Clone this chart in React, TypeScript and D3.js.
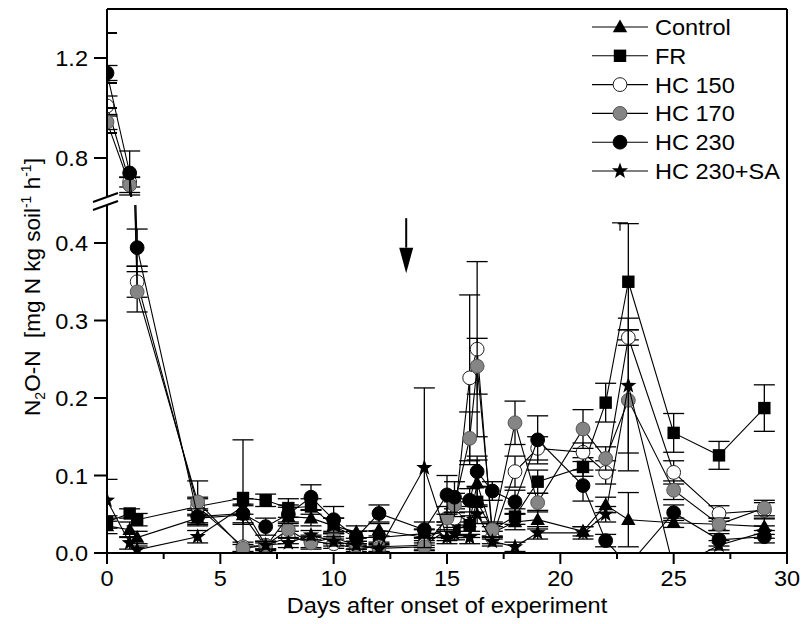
import React from "react";
import * as d3 from "d3";

const days = [0, 1, 1.33, 4, 6, 7, 8, 9, 10, 11, 12, 14, 15, 15.33, 16, 16.33, 17, 18, 19, 21, 22, 23, 25, 27, 29];

const seriesNames = ["Control", "FR", "HC 150", "HC 170", "HC 230", "HC 230+SA"];

const controlValues = [0.035, 0.03, 0.02, 0.045, 0.049, 0.008, 0.047, 0.045, 0.035, 0.027, 0.03, 0.02, 0.03, 0.051, 0.04, 0.09, 0.026, 0.04, 0.043, 0.028, 0.062, 0.043, 0.039, 0.037, 0.034];
const controlErrors = [0.01, 0.01, 0.008, 0.01, 0.012, 0.005, 0.012, 0.01, 0.01, 0.008, 0.008, 0.01, 0.01, 0.015, 0.02, 0.03, 0.008, 0.01, 0.012, 0.006, 0.01, 0.035, 0.006, 0.008, 0.01];

const frValues = [0.04, 0.051, 0.043, 0.06, 0.071, 0.068, 0.058, 0.06, 0.035, 0.02, 0.02, 0.025, 0.026, 0.03, 0.036, 0.066, 0.03, 0.047, 0.092, 0.111, 0.194, 0.35, 0.155, 0.126, 0.187];
const frErrors = [0.008, 0.006, 0.008, 0.012, 0.075, 0.008, 0.012, 0.01, 0.01, 0.008, 0.008, 0.006, 0.01, 0.01, 0.012, 0.02, 0.008, 0.01, 0.015, 0.012, 0.025, 0.075, 0.025, 0.018, 0.03];

const hc150Values = [1.008, 0.704, 0.35, 0.06, 0.008, 0.01, 0.02, 0.015, 0.012, 0.006, 0.008, 0.01, 0.03, 0.045, 0.226, 0.263, 0.02, 0.105, 0.135, 0.13, 0.104, 0.278, 0.104, 0.051, 0.055];
const hc150Errors = [0.04, 0.02, 0.02, 0.01, 0.006, 0.005, 0.008, 0.008, 0.006, 0.004, 0.006, 0.006, 0.01, 0.012, 0.107, 0.113, 0.008, 0.02, 0.015, 0.012, 0.015, 0.01, 0.015, 0.01, 0.01];

const hc170Values = [0.944, 0.692, 0.337, 0.066, 0.006, 0.01, 0.03, 0.013, 0.02, 0.01, 0.006, 0.008, 0.045, 0.062, 0.148, 0.241, 0.03, 0.168, 0.065, 0.16, 0.122, 0.197, 0.081, 0.037, 0.058];
const hc170Errors = [0.03, 0.03, 0.026, 0.027, 0.005, 0.005, 0.01, 0.008, 0.008, 0.005, 0.005, 0.005, 0.015, 0.015, 0.034, 0.036, 0.01, 0.028, 0.012, 0.025, 0.015, 0.091, 0.012, 0.008, 0.01];

const hc230Values = [1.14, 0.74, 0.394, 0.047, 0.051, 0.034, 0.05, 0.072, 0.043, 0.02, 0.051, 0.03, 0.075, 0.072, 0.068, 0.105, 0.08, 0.066, 0.146, 0.087, 0.016, -0.016, 0.052, 0.017, 0.021];
const hc230Errors = [0.03, 0.088, 0.024, 0.01, 0.012, 0.011, 0.012, 0.016, 0.017, 0.008, 0.011, 0.01, 0.025, 0.02, 0.015, 0.02, 0.012, 0.015, 0.031, 0.02, 0.008, 0.06, 0.01, 0.008, 0.008];

const saValues = [0.068, 0.013, 0.004, 0.021, 0.06, 0.01, 0.013, 0.023, 0.015, 0.01, 0.005, 0.11, 0.02, 0.025, 0.02, 0.05, 0.015, 0.008, 0.026, 0.026, 0.05, 0.216, -0.02, 0.01, 0.027];
const saErrors = [0.027, 0.008, 0.005, 0.008, 0.01, 0.005, 0.006, 0.006, 0.006, 0.005, 0.004, 0.103, 0.008, 0.008, 0.008, 0.012, 0.006, 0.006, 0.008, 0.008, 0.01, 0.087, 0.01, 0.006, 0.008];

const xTicks = [0, 5, 10, 15, 20, 25, 30];
const xMinorTicks = [2.5, 7.5, 12.5, 17.5, 22.5, 27.5];
const yTicksLower = [0, 0.1, 0.2, 0.3, 0.4];
const yTicksUpper = [0.8, 1.2];
const yMinorUpper = [0.9, 1.0, 1.1, 1.3];

const arrowDay = 13.2;
const arrowTop = 0.432;
const arrowHeadBase = 0.394;
const arrowTip = 0.361;

const FONT = "'Liberation Sans', Arial, Helvetica, sans-serif";
const SX = 1.07;

const x = d3.scaleLinear().domain([0, 30]).range([107, 787]);
const yUp = d3.scaleLinear().domain([0.8, 1.2]).range([158, 58]);
const yLo = d3.scaleLinear().domain([0, 0.4]).range([553, 243]);

const upperDomain: [number, number] = [0.65, 1.4];
const lowerDomain: [number, number] = [-0.004, 0.45];

type Kind = "tri" | "sq" | "circ" | "star";
const styles: { kind: Kind; fill: string; stroke: string }[] = [
  { kind: "tri", fill: "#000", stroke: "#000" },
  { kind: "sq", fill: "#000", stroke: "#000" },
  { kind: "circ", fill: "#fff", stroke: "#222" },
  { kind: "circ", fill: "#858585", stroke: "#555" },
  { kind: "circ", fill: "#000", stroke: "#000" },
  { kind: "star", fill: "#000", stroke: "#000" },
];

const allValues = [controlValues, frValues, hc150Values, hc170Values, hc230Values, saValues];
const allErrors = [controlErrors, frErrors, hc150Errors, hc170Errors, hc230Errors, saErrors];

const series = seriesNames.map((name, i) => ({
  name,
  style: styles[i],
  points: days.map((d, j) => ({ day: d, v: allValues[i][j], e: allErrors[i][j] })),
}));

function starPath(cx: number, cy: number, R: number, r: number) {
  const pts: string[] = [];
  for (let k = 0; k < 10; k++) {
    const ang = -Math.PI / 2 + (k * Math.PI) / 5;
    const rad = k % 2 === 0 ? R : r;
    pts.push(`${cx + rad * Math.cos(ang)},${cy + rad * Math.sin(ang)}`);
  }
  return `M${pts.join("L")}Z`;
}

function Marker({ kind, cx, cy, fill, stroke }: { kind: Kind; cx: number; cy: number; fill: string; stroke: string }) {
  if (kind === "circ") return <circle cx={cx} cy={cy} r={6.9} fill={fill} stroke={stroke} strokeWidth={1} />;
  if (kind === "sq") return <rect x={cx - 6.2} y={cy - 6.2} width={12.4} height={12.4} fill={fill} />;
  if (kind === "tri")
    return <path d={`M${cx},${cy - 7.5}L${cx + 7.2},${cy + 5.3}L${cx - 7.2},${cy + 5.3}Z`} fill={fill} />;
  return <path d={starPath(cx, cy, 8.5, 3.5)} fill={fill} />;
}

function Txt({ x: tx, y: ty, anchor = "start", size = 22, children }: any) {
  return (
    <text transform={`translate(${tx},${ty}) scale(${SX},1)`} textAnchor={anchor} fontSize={size} fontFamily={FONT} fill="#000">
      {children}
    </text>
  );
}

function Panel({ scale, dom, clipId }: { scale: d3.ScaleLinear<number, number>; dom: [number, number]; clipId: string }) {
  const line = d3
    .line<{ day: number; v: number }>()
    .x((p) => x(p.day))
    .y((p) => scale(p.v));
  const inDom = (v: number) => v >= dom[0] && v <= dom[1];
  return (
    <g clipPath={`url(#${clipId})`}>
      {series.map((s, i) => (
        <g key={i}>
          <path d={line(s.points) || ""} fill="none" stroke="#000" strokeWidth={1.1} />
          {s.points
            .filter((p) => inDom(p.v))
            .map((p, j) => {
              const cx = x(p.day);
              const y1 = scale(p.v + p.e);
              const y2 = scale(p.v - p.e);
              return (
                <g key={j} stroke="#000" strokeWidth={1.3}>
                  <line x1={cx} x2={cx} y1={y1} y2={y2} />
                  <line x1={cx - 10.5} x2={cx + 10.5} y1={y1} y2={y1} />
                  <line x1={cx - 10.5} x2={cx + 10.5} y1={y2} y2={y2} />
                </g>
              );
            })}
          {s.points
            .filter((p) => inDom(p.v))
            .map((p, j) => (
              <Marker key={j} kind={s.style.kind} cx={x(p.day)} cy={scale(p.v)} fill={s.style.fill} stroke={s.style.stroke} />
            ))}
        </g>
      ))}
    </g>
  );
}

export default function App() {
  const left = x(0);
  const right = x(30);
  const top = yUp(1.396);
  const bottom = yLo(0);
  const upperBottom = 197;
  const lowerTop = 205;
  const legendX = 592;
  const legendY0 = 27;
  const legendStep = 28.8;
  const ax = x(arrowDay);

  return (
    <svg width={802} height={624} style={{ position: "absolute", left: 0, top: 0, background: "#fff" }}>
      <defs>
        <clipPath id="clipUp">
          <rect x={left} y={top} width={right - left} height={upperBottom - top} />
        </clipPath>
        <clipPath id="clipLo">
          <rect x={left} y={lowerTop} width={right - left} height={bottom - lowerTop} />
        </clipPath>
      </defs>
      <rect x={0} y={0} width={802} height={624} fill="#fff" />

      <Panel scale={yUp} dom={upperDomain} clipId="clipUp" />
      <Panel scale={yLo} dom={lowerDomain} clipId="clipLo" />

      {/* frame */}
      <g stroke="#000" strokeWidth={2} fill="none">
        <line x1={left} x2={right} y1={top} y2={top} />
        <line x1={right} x2={right} y1={top} y2={bottom} />
        <line x1={left - 1} x2={right + 1} y1={bottom} y2={bottom} />
        <line x1={left} x2={left} y1={top} y2={upperBottom} />
        <line x1={left} x2={left} y1={lowerTop} y2={bottom} />
      </g>
      {/* break marks */}
      <g stroke="#000" strokeWidth={2}>
        <line x1={left - 14} x2={left + 11} y1={upperBottom + 5} y2={upperBottom - 4} />
        <line x1={left - 14} x2={left + 11} y1={lowerTop + 5} y2={lowerTop - 4} />
      </g>

      {/* x ticks */}
      <g stroke="#000" strokeWidth={2}>
        {xTicks.map((t) => (
          <line key={t} x1={x(t)} x2={x(t)} y1={bottom} y2={bottom + 11} />
        ))}
        {xMinorTicks.map((t) => (
          <line key={t} x1={x(t)} x2={x(t)} y1={bottom} y2={bottom + 6} />
        ))}
      </g>
      {xTicks.map((t) => (
        <Txt key={t} x={x(t)} y={586} anchor="middle">
          {t}
        </Txt>
      ))}
      <Txt x={(left + right) / 2} y={613} anchor="middle">
        Days after onset of experiment
      </Txt>

      {/* y ticks */}
      <g stroke="#000" strokeWidth={2}>
        {yTicksLower.map((t) => (
          <line key={t} x1={left - 13} x2={left} y1={yLo(t)} y2={yLo(t)} />
        ))}
        {yTicksUpper.map((t) => (
          <line key={t} x1={left - 13} x2={left} y1={yUp(t)} y2={yUp(t)} />
        ))}
        {yMinorUpper.map((t) => (
          <line key={t} x1={left} x2={left + 10} y1={yUp(t)} y2={yUp(t)} />
        ))}
      </g>
      {yTicksLower.map((t) => (
        <Txt key={t} x={88} y={yLo(t) + 8} anchor="end">
          {t.toFixed(1)}
        </Txt>
      ))}
      {yTicksUpper.map((t) => (
        <Txt key={t} x={88} y={yUp(t) + 8} anchor="end">
          {t.toFixed(1)}
        </Txt>
      ))}

      {/* y title */}
      <text
        transform={`translate(40,${287}) rotate(-90)`}
        textAnchor="middle"
        fontSize={22.5}
        fontFamily={FONT}
        fill="#000"
      >
        N<tspan fontSize={14} dy={5}>2</tspan>
        <tspan dy={-5}>O-N{"\u00a0\u00a0"}[mg N kg soil</tspan>
        <tspan fontSize={14} dy={-9}>-1</tspan>
        <tspan dy={9}>{"\u00a0"}h</tspan>
        <tspan fontSize={14} dy={-9}>-1</tspan>
        <tspan dy={9}>]</tspan>
      </text>

      {/* arrow */}
      <line x1={ax} x2={ax} y1={yLo(arrowTop)} y2={yLo(arrowHeadBase)} stroke="#000" strokeWidth={2} />
      <path
        d={`M${ax - 7},${yLo(arrowHeadBase)}L${ax + 7},${yLo(arrowHeadBase)}L${ax},${yLo(arrowTip)}Z`}
        fill="#000"
      />

      {/* legend */}
      {series.map((s, i) => {
        const ly = legendY0 + i * legendStep;
        return (
          <g key={i}>
            <line x1={legendX} x2={legendX + 56} y1={ly} y2={ly} stroke="#000" strokeWidth={1.1} />
            <Marker kind={s.style.kind} cx={legendX + 28} cy={ly} fill={s.style.fill} stroke={s.style.stroke} />
            <Txt x={legendX + 63} y={ly + 8}>
              {s.name}
            </Txt>
          </g>
        );
      })}
      <g stroke="#000" strokeWidth={1.2}>
        <line x1={legendX + 20} x2={legendX + 36} y1={legendY0 + 6.8 * legendStep} y2={legendY0 + 6.8 * legendStep} />
        <line x1={legendX + 28} x2={legendX + 28} y1={legendY0 + 6.8 * legendStep} y2={legendY0 + 6.8 * legendStep + 8} />
      </g>
    </svg>
  );
}
